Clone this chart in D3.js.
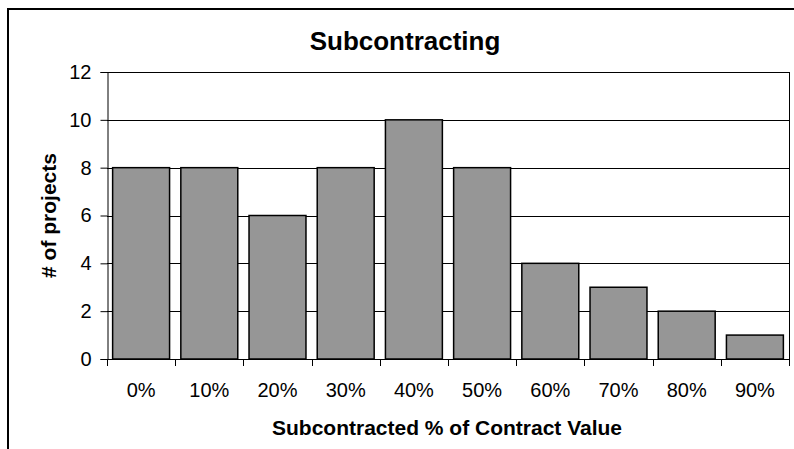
<!DOCTYPE html>
<html>
<head>
<meta charset="utf-8">
<script src="https://cdn.jsdelivr.net/npm/d3@7"></script>
<style>
  body { margin: 0; background: #fff; }
  text { font-family: Arial, "Liberation Sans", sans-serif; fill: #000; }
</style>
</head>
<body>
<svg id="chart"></svg>
<script>
const width = 794;
const height = 449;

const categories = ["0%", "10%", "20%", "30%", "40%", "50%", "60%", "70%", "80%", "90%"];
const projects = [8, 8, 6, 8, 10, 8, 4, 3, 2, 1];
const yTicks = [0, 2, 4, 6, 8, 10, 12];

const plot = { left: 107, top: 72, right: 789, bottom: 359 };

const svg = d3.select('#chart')
  .attr('width', width)
  .attr('height', height);

// outer chart frame (runs past the right/bottom edge)
svg.append('rect')
  .attr('x', 8).attr('y', 9)
  .attr('width', 820).attr('height', 480)
  .attr('fill', 'none')
  .attr('stroke', '#000')
  .attr('stroke-width', 2);

let x = d3.scaleBand()
  .domain(categories)
  .range([plot.left, plot.right])
  .paddingInner(0.165)
  .paddingOuter(0.0825);

let y = d3.scaleLinear()
  .domain([0, 12])
  .range([plot.bottom, plot.top]);

// gridlines
svg.selectAll('.grid')
  .data(yTicks.slice(1))
  .join('line')
  .attr('class', 'grid')
  .attr('x1', plot.left).attr('x2', plot.right)
  .attr('y1', d => Math.round(y(d)) + 0.5)
  .attr('y2', d => Math.round(y(d)) + 0.5)
  .attr('stroke', '#000')
  .attr('stroke-width', 1);

// right border of plot area
svg.append('line')
  .attr('x1', plot.right + 0.5).attr('x2', plot.right + 0.5)
  .attr('y1', plot.top).attr('y2', plot.bottom)
  .attr('stroke', '#000');

// bars
svg.selectAll('.bar')
  .data(projects)
  .join('rect')
  .attr('class', 'bar')
  .attr('x', (d, i) => x(categories[i]))
  .attr('width', x.bandwidth())
  .attr('y', d => y(d))
  .attr('height', d => y(0) - y(d))
  .attr('fill', '#969696')
  .attr('stroke', '#000')
  .attr('stroke-width', 1.5);

// y axis
let yAxis = svg.append('g')
  .attr('transform', `translate(${plot.left + 0.5},0)`)
  .call(d3.axisLeft(y).tickValues(yTicks).tickSize(7).tickPadding(9));
yAxis.select('.domain').attr('stroke', '#000');
yAxis.selectAll('.tick line').attr('stroke', '#000');
yAxis.selectAll('text')
  .attr('font-size', '20px')
  .attr('font-family', 'Arial, "Liberation Sans", sans-serif')
  .attr('fill', '#000');

// x axis: ticks sit on band boundaries
let step = x.step();
let boundaries = d3.range(categories.length + 1).map(i => plot.left + i * step);
let xAxis = svg.append('g');
xAxis.append('line')
  .attr('x1', plot.left).attr('x2', plot.right)
  .attr('y1', plot.bottom + 0.5).attr('y2', plot.bottom + 0.5)
  .attr('stroke', '#000');
xAxis.selectAll('.xtick')
  .data(boundaries)
  .join('line')
  .attr('class', 'xtick')
  .attr('x1', d => Math.round(d) + 0.5).attr('x2', d => Math.round(d) + 0.5)
  .attr('y1', plot.bottom).attr('y2', plot.bottom + 7)
  .attr('stroke', '#000');
xAxis.selectAll('.xlabel')
  .data(categories)
  .join('text')
  .attr('class', 'xlabel')
  .attr('x', d => x(d) + x.bandwidth() / 2)
  .attr('y', 397)
  .attr('text-anchor', 'middle')
  .attr('font-size', '20px')
  .text(d => d);

// titles
svg.append('text')
  .attr('x', 405).attr('y', 50)
  .attr('text-anchor', 'middle')
  .attr('font-size', '26px')
  .attr('font-weight', 'bold')
  .text('Subcontracting');

svg.append('text')
  .attr('x', 447).attr('y', 435)
  .attr('text-anchor', 'middle')
  .attr('font-size', '21px')
  .attr('font-weight', 'bold')
  .text('Subcontracted % of Contract Value');

svg.append('text')
  .attr('transform', `translate(56,${(plot.top + plot.bottom) / 2}) rotate(-90)`)
  .attr('text-anchor', 'middle')
  .attr('font-size', '21px')
  .attr('font-weight', 'bold')
  .text('# of projects');
</script>
</body>
</html>
